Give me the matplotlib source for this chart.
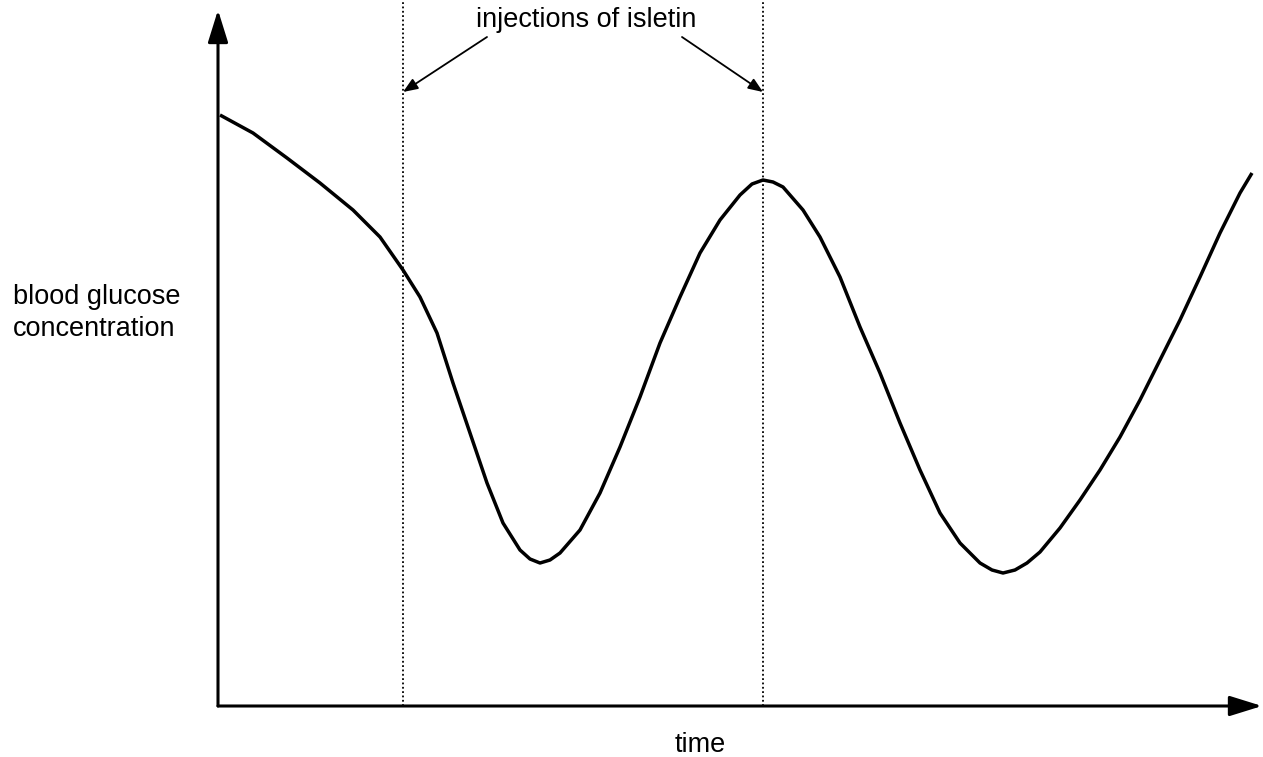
import numpy as np
import matplotlib.pyplot as plt

# Curve (arbitrary units: time, glucose level)
time = [0.02, 0.35, 0.69, 1.02, 1.35, 1.62, 1.85, 2.02, 2.19, 2.35,
        2.52, 2.69, 2.85, 3.02, 3.12, 3.22, 3.32, 3.42, 3.62, 3.82,
        4.02, 4.22, 4.42, 4.62, 4.82, 5.02, 5.22, 5.34, 5.45, 5.55,
        5.65, 5.85, 6.02, 6.22, 6.42, 6.62, 6.82, 7.02, 7.22, 7.42,
        7.62, 7.74, 7.85, 7.97, 8.09, 8.22, 8.42, 8.62, 8.82, 9.02,
        9.22, 9.42, 9.62, 9.82, 10.02, 10.22, 10.34]
glucose = [5.91, 5.73, 5.48, 5.23, 4.96, 4.69, 4.36, 4.09, 3.73, 3.23,
           2.73, 2.23, 1.83, 1.56, 1.47, 1.43, 1.46, 1.53, 1.76, 2.13,
           2.59, 3.09, 3.63, 4.09, 4.53, 4.86, 5.11, 5.22, 5.26, 5.24,
           5.19, 4.96, 4.69, 4.29, 3.79, 3.33, 2.83, 2.36, 1.93, 1.63,
           1.43, 1.36, 1.33, 1.36, 1.43, 1.54, 1.78, 2.06, 2.36, 2.69,
           3.06, 3.46, 3.86, 4.29, 4.73, 5.13, 5.33]

injection_times = [1.85, 5.45]
injection_label = "injections of isletin"
x_label = "time"
y_label = "blood glucose\nconcentration"

W, H = 1263, 757
fig = plt.figure(figsize=(W / 100, H / 100), dpi=100)
plt.rcParams['font.family'] = ['Liberation Sans', 'DejaVu Sans']

# axes origin sits at pixel (218, 706), arrow tips at x=1262 / y=10
x0, y0, x1, y1 = 218, 706, 1262, 10
ax = fig.add_axes([x0 / W, (H - y0) / H, (x1 - x0) / W, (y0 - y1) / H])
xmax = (x1 - x0) / 100
ymax = (y0 - y1) / 100
ax.set_xlim(0, xmax)
ax.set_ylim(0, ymax)
ax.axis('off')

# axes drawn as arrows
big_arrow = dict(arrowstyle='-|>,head_length=0.9,head_width=0.28',
                 mutation_scale=22, color='black', lw=2.2,
                 shrinkA=0, shrinkB=0)
ax.annotate('', xy=(0, ymax), xytext=(0, 0), arrowprops=big_arrow,
            annotation_clip=False)
ax.annotate('', xy=(xmax, 0), xytext=(0, 0), arrowprops=big_arrow,
            annotation_clip=False)

# injection markers
ax.vlines(injection_times, 0, ymax + 0.1, colors='black',
          linestyles=(0, (1, 1.4)), lw=1.3, clip_on=False)

# glucose curve
ax.plot(time, glucose, color='black', lw=2.5, solid_joinstyle='round',
        solid_capstyle='butt')

# label with arrows to injection lines
lab_x, lab_y = (586 - x0) / 100, (y0 - 20) / 100
ax.text(lab_x, lab_y, injection_label, ha='center', va='center',
        fontsize=19.5)
small_arrow = dict(arrowstyle='-|>,head_length=0.55,head_width=0.22',
                   mutation_scale=16, color='black', lw=1.3,
                   shrinkA=0, shrinkB=0)
ax.annotate('', xy=(injection_times[0], (y0 - 92) / 100),
            xytext=((487 - x0) / 100, (y0 - 37) / 100),
            arrowprops=small_arrow, annotation_clip=False)
ax.annotate('', xy=(injection_times[1], (y0 - 92) / 100),
            xytext=((682 - x0) / 100, (y0 - 37) / 100),
            arrowprops=small_arrow, annotation_clip=False)

# axis titles
fig.text(700 / W, 1 - 745 / H, x_label, ha='center', va='center',
         fontsize=19.5)
fig.text(13 / W, 1 - 313 / H, y_label, ha='left', va='center',
         fontsize=19.5, linespacing=1.3)

fig.savefig("out.png", dpi=100)
plt.close(fig)
